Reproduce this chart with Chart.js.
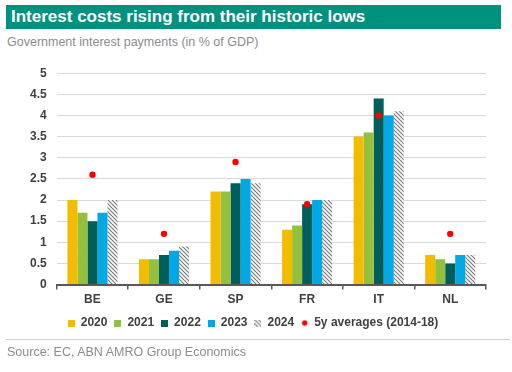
<!DOCTYPE html>
<html>
<head>
<meta charset="utf-8">
<script src="https://cdn.jsdelivr.net/npm/chart.js@4"></script>
<style>
  html, body { margin: 0; padding: 0; background: #fff; }
  body { width: 512px; height: 372px; position: relative; overflow: hidden;
         font-family: "Liberation Sans", Arial, sans-serif; }
  #title { position: absolute; left: 6px; top: 5px; width: 495px; height: 24px;
           background: #00927f; color: #fff; font-weight: bold; font-size: 17px;
           line-height: 24px; padding-left: 5px; box-sizing: border-box; }
  #sub { position: absolute; left: 7px; top: 35px; font-size: 12.5px; color: #8c8c8c; }
  #wrap { position: absolute; left: 0; top: 56px; width: 512px; height: 284px; }
  #rule { position: absolute; left: 6px; top: 339px; width: 504px; height: 1px; background: #cfcfcf; }
  #src { position: absolute; left: 7px; top: 345px; font-size: 12.5px; color: #8c8c8c; }
</style>
</head>
<body>
<div id="title">Interest costs rising from their historic lows</div>
<div id="sub">Government interest payments (in % of GDP)</div>
<div id="wrap"><canvas id="chart" width="512" height="284"></canvas></div>
<div id="rule"></div>
<div id="src">Source: EC, ABN AMRO Group Economics</div>

<script>
/* ── Data ── */
const COUNTRIES = ['BE', 'GE', 'SP', 'FR', 'IT', 'NL'];
const Y2020 = [2.0, 0.6, 2.2, 1.3, 3.5, 0.7];
const Y2021 = [1.7, 0.6, 2.2, 1.4, 3.6, 0.6];
const Y2022 = [1.5, 0.7, 2.4, 1.9, 4.4, 0.5];
const Y2023 = [1.7, 0.8, 2.5, 2.0, 4.0, 0.7];
const Y2024 = [2.0, 0.9, 2.4, 2.0, 4.1, 0.7];
const AVG_5Y = [2.6, 1.2, 2.9, 1.9, 4.0, 1.2];

const FONT = { family: 'Liberation Sans, Arial', size: 12, weight: 'bold' };

/* ── Hatch pattern for 2024 ── */
function hatch() {
  const c = document.createElement('canvas');
  c.width = 4; c.height = 4;
  const g = c.getContext('2d');
  g.fillStyle = '#ffffff';
  g.fillRect(0, 0, 4, 4);
  g.strokeStyle = '#7a7a7a';
  g.lineWidth = 1.2;
  g.beginPath();
  g.moveTo(0, 0); g.lineTo(4, 4);
  g.moveTo(-2, 2); g.lineTo(2, 6);
  g.moveTo(2, -2); g.lineTo(6, 2);
  g.stroke();
  return g.createPattern(c, 'repeat');
}

/* small legend icon: square or dot */
function icon(fill, round) {
  const c = document.createElement('canvas');
  c.width = 7; c.height = 7;
  const g = c.getContext('2d');
  g.fillStyle = fill;
  if (round) {
    g.beginPath(); g.arc(3.5, 3.5, 2.7, 0, Math.PI * 2); g.fill();
  } else {
    g.fillRect(0, 0, 7, 7);
  }
  return c;
}

const PATTERN = hatch();
const bar = (label, data, color) => ({
  type: 'bar', label, data, backgroundColor: color, borderWidth: 0, order: 1,
});

new Chart(document.getElementById('chart'), {
  data: {
    labels: COUNTRIES,
    datasets: [
      bar('2020', Y2020, '#f2bd00'),
      bar('2021', Y2021, '#93c13e'),
      bar('2022', Y2022, '#005e5b'),
      bar('2023', Y2023, '#00a8e6'),
      bar('2024', Y2024, PATTERN),
      {
        type: 'line',
        label: '5y averages (2014-18)',
        data: AVG_5Y,
        showLine: false,
        pointRadius: 3.2,
        pointStyle: 'circle',
        pointBackgroundColor: '#ff0000',
        pointBorderWidth: 0,
        backgroundColor: '#ff0000',
        borderColor: '#ff0000',
        order: 0,
      },
    ],
  },
  options: {
    responsive: false,
    animation: false,
    layout: { padding: { left: 20, right: 26, top: 2, bottom: 1 } },
    datasets: { bar: { categoryPercentage: 0.7, barPercentage: 1.0 } },
    plugins: {
      tooltip: { enabled: false },
      legend: {
        position: 'bottom',
        labels: {
          usePointStyle: true,
          boxWidth: 7,
          boxHeight: 7,
          padding: 7,
          color: '#404040',
          font: FONT,
          generateLabels(chart) {
            const hatchIcon = document.createElement('canvas');
            hatchIcon.width = 7; hatchIcon.height = 7;
            const hg = hatchIcon.getContext('2d');
            hg.fillStyle = PATTERN; hg.fillRect(0, 0, 7, 7);
            return chart.data.datasets.map((ds, i) => ({
              text: ds.label,
              fillStyle: '#000',
              strokeStyle: 'rgba(0,0,0,0)',
              lineWidth: 0,
              pointStyle: ds.type === 'line' ? icon('#ff0000', true)
                : (i === 4 ? hatchIcon : icon(ds.backgroundColor, false)),
              datasetIndex: i,
              fontColor: '#404040',
            }));
          },
        },
      },
    },
    scales: {
      x: {
        grid: { display: true, drawOnChartArea: false, drawTicks: true, tickLength: 5, color: '#595959', lineWidth: 1.5 },
        border: { display: true, color: '#595959', width: 2 },
        ticks: { color: '#404040', padding: 3, font: FONT },
      },
      y: {
        min: 0,
        max: 5,
        grid: { color: '#d9d9d9', drawTicks: false },
        border: { display: false },
        ticks: {
          stepSize: 0.5, color: '#404040', padding: 10, font: FONT,
          callback: v => String(Math.round(v * 10) / 10),
        },
      },
    },
  },
});
</script>
</body>
</html>
